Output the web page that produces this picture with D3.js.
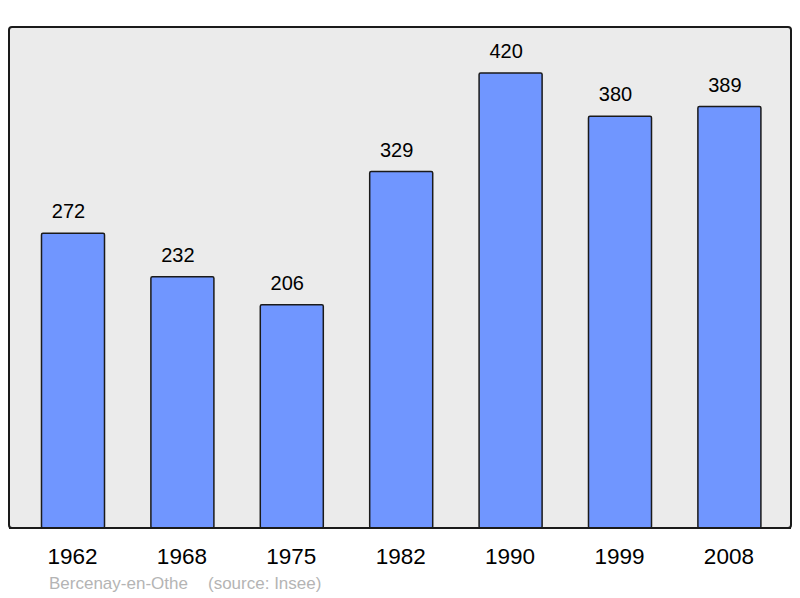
<!DOCTYPE html>
<html><head><meta charset="utf-8">
<script src="https://cdn.jsdelivr.net/npm/d3@7"></script>
<style>body{margin:0;background:#fff}svg{display:block}text{font-family:"Liberation Sans",Arial,sans-serif}</style>
</head><body>
<svg id="c" width="800" height="598"></svg>
<script>
const years = ["1962","1968","1975","1982","1990","1999","2008"];
const population = [272,232,206,329,420,380,389];
const place = "Bercenay-en-Othe";
const source = "(source: Insee)";

const svg = d3.select("#c");
svg.append("rect").attr("x",9).attr("y",27).attr("width",782).attr("height",501)
  .attr("rx",3).attr("fill","#ebebeb").attr("stroke","#1a1a1a").attr("stroke-width",2);

const x = d3.scaleBand().domain(years).range([18.3, 784.1]).paddingInner(0.424).paddingOuter(0.212);
const y = d3.scaleLinear().domain([0,420]).range([528,73]);

svg.selectAll("rect.bar").data(population).enter().append("rect").attr("class","bar")
  .attr("x",(d,i)=>x(years[i])).attr("y",d=>y(d))
  .attr("width",x.bandwidth()).attr("height",d=>y(0)-y(d))
  .attr("rx",1.5).attr("fill","#7096ff").attr("stroke","#1a1a1a").attr("stroke-width",1.5);

svg.selectAll("text.val").data(population).enter().append("text").attr("class","val")
  .attr("x",(d,i)=>x(years[i])+x.bandwidth()/2-4.5).attr("y",d=>y(d)-15)
  .attr("text-anchor","middle").attr("font-size",20).attr("fill","#000").text(d=>d);

svg.append("line").attr("x1",9).attr("x2",791).attr("y1",528).attr("y2",528).attr("stroke","#1a1a1a").attr("stroke-width",2);

const xAxis = d3.axisBottom(x).tickSize(0).tickPadding(0);
const g = svg.append("g").attr("transform","translate(-0.5,548)").call(xAxis);
g.select(".domain").remove();
g.selectAll("text").attr("font-size",22.5).attr("fill","#000").attr("dy","0.71em")
  .style("font-family",'"Liberation Sans",Arial,sans-serif');

svg.append("text").attr("x",49).attr("y",589).attr("font-size",17).attr("fill","#b4b4b4").text(place);
svg.append("text").attr("x",208).attr("y",589).attr("font-size",17).attr("fill","#b4b4b4").text(source);
</script>
</body></html>
